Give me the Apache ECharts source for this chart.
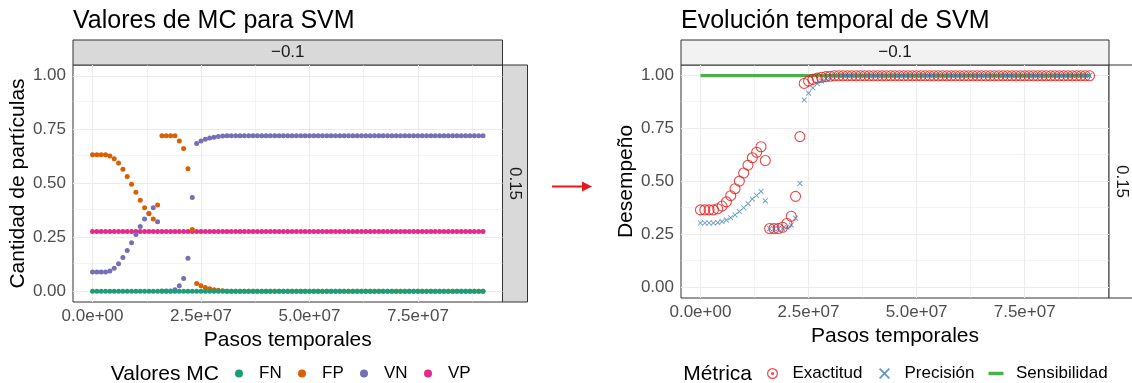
<!DOCTYPE html>
<html><head><meta charset="utf-8">
<script src="https://cdn.jsdelivr.net/npm/echarts@6/dist/echarts.min.js"></script>
<style>html,body{margin:0;padding:0;background:#fff}#c{width:1132px;height:383px}</style>
</head><body><div id="c"></div>
<script>
// ---- data (x in millions of time steps) ----
const pasos = [0,1,2,3,4,5,6,7,8,9,10,11,12,13,14,15,16,17,18,19,20,21,22,23,24,25,26,27,28,29,30,31,32,33,34,35,36,37,38,39,40,41,42,43,44,45,46,47,48,49,50,51,52,53,54,55,56,57,58,59,60,61,62,63,64,65,66,67,68,69,70,71,72,73,74,75,76,77,78,79,80,81,82,83,84,85,86,87,88,89,90];
const FN = [0,0,0,0,0,0,0,0,0,0, 0,0,0,0,0,0,0,0,0,0, 0,0,0,0,0,0,0,0,0,0, 0,0,0,0,0,0,0,0,0,0, 0,0,0,0,0,0,0,0,0,0, 0,0,0,0,0,0,0,0,0,0, 0,0,0,0,0,0,0,0,0,0, 0,0,0,0,0,0,0,0,0,0, 0,0,0,0,0,0,0,0,0,0, 0];
const FP = [0.633,0.633,0.633,0.633,0.628,0.615,0.595,0.566,0.533,0.497,
            0.459,0.422,0.387,0.361,0.335,0.400,0.722,0.722,0.722,0.722,
            0.697,0.663,0.569,0.287,0.036,0.025,0.017,0.011,0.007,0.004,
            0.002,0,0,0,0,0,0,0,0,0, 0,0,0,0,0,0,0,0,0,0, 0,0,0,0,0,0,0,0,0,0,
            0,0,0,0,0,0,0,0,0,0, 0,0,0,0,0,0,0,0,0,0, 0,0,0,0,0,0,0,0,0,0, 0];
const VN = [0.089,0.089,0.089,0.089,0.094,0.107,0.127,0.156,0.189,0.225,
            0.263,0.300,0.335,0.361,0.387,0.322,0.001,0.001,0.001,0.007,
            0.025,0.059,0.153,0.435,0.686,0.697,0.705,0.711,0.715,0.718,
            0.720,0.722,0.722,0.722,0.722,0.722,0.722,0.722,0.722,0.722,
            0.722,0.722,0.722,0.722,0.722,0.722,0.722,0.722,0.722,0.722,
            0.722,0.722,0.722,0.722,0.722,0.722,0.722,0.722,0.722,0.722,
            0.722,0.722,0.722,0.722,0.722,0.722,0.722,0.722,0.722,0.722,
            0.722,0.722,0.722,0.722,0.722,0.722,0.722,0.722,0.722,0.722,
            0.722,0.722,0.722,0.722,0.722,0.722,0.722,0.722,0.722,0.722, 0.722];
const VP = [0.277,0.277,0.277,0.277,0.277,0.277,0.277,0.277,0.277,0.277,
            0.277,0.277,0.277,0.277,0.277,0.277,0.277,0.277,0.277,0.277,
            0.277,0.277,0.277,0.277,0.277,0.277,0.277,0.277,0.277,0.277,
            0.277,0.277,0.277,0.277,0.277,0.277,0.277,0.277,0.277,0.277,
            0.277,0.277,0.277,0.277,0.277,0.277,0.277,0.277,0.277,0.277,
            0.277,0.277,0.277,0.277,0.277,0.277,0.277,0.277,0.277,0.277,
            0.277,0.277,0.277,0.277,0.277,0.277,0.277,0.277,0.277,0.277,
            0.277,0.277,0.277,0.277,0.277,0.277,0.277,0.277,0.277,0.277,
            0.277,0.277,0.277,0.277,0.277,0.277,0.277,0.277,0.277,0.277, 0.277];
const Exactitud = [0.366,0.366,0.366,0.366,0.371,0.384,0.404,0.433,0.466,0.502,
            0.540,0.577,0.612,0.638,0.664,0.599,0.278,0.278,0.278,0.284,
            0.302,0.336,0.430,0.712,0.963,0.974,0.982,0.988,0.992,0.995,
            0.997,0.999,0.999,0.999,0.999,0.999,0.999,0.999,0.999,0.999,
            0.999,0.999,0.999,0.999,0.999,0.999,0.999,0.999,0.999,0.999,
            0.999,0.999,0.999,0.999,0.999,0.999,0.999,0.999,0.999,0.999,
            0.999,0.999,0.999,0.999,0.999,0.999,0.999,0.999,0.999,0.999,
            0.999,0.999,0.999,0.999,0.999,0.999,0.999,0.999,0.999,0.999,
            0.999,0.999,0.999,0.999,0.999,0.999,0.999,0.999,0.999,0.999, 0.999];
const Precision = [0.304,0.304,0.304,0.304,0.306,0.311,0.318,0.329,0.342,0.358,
            0.376,0.396,0.417,0.434,0.453,0.409,0.277,0.277,0.277,0.277,
            0.284,0.295,0.327,0.491,0.885,0.917,0.942,0.962,0.975,0.986,
            0.993,1,1,1,1,1,1,1,1,1, 1,1,1,1,1,1,1,1,1,1, 1,1,1,1,1,1,1,1,1,1,
            1,1,1,1,1,1,1,1,1,1, 1,1,1,1,1,1,1,1,1,1, 1,1,1,1,1,1,1,1,1,1, 1];
const Sensibilidad = [1,1,1,1,1,1,1,1,1,1, 1,1,1,1,1,1,1,1,1,1, 1,1,1,1,1,1,1,1,1,1,
            1,1,1,1,1,1,1,1,1,1, 1,1,1,1,1,1,1,1,1,1, 1,1,1,1,1,1,1,1,1,1,
            1,1,1,1,1,1,1,1,1,1, 1,1,1,1,1,1,1,1,1,1, 1,1,1,1,1,1,1,1,1,1, 1];

const xTicks = [0, 25, 50, 75];
const xTickLabels = ['0.0e+00', '2.5e+07', '5.0e+07', '7.5e+07'];
const xMinor = [12.5, 37.5, 62.5, 87.5];
const yTicks = [0, 0.25, 0.5, 0.75, 1];
const yTickLabels = ['0.00', '0.25', '0.50', '0.75', '1.00'];
const yMinor = [0.125, 0.375, 0.625, 0.875];
const leftNames = ['FN', 'FP', 'VN', 'VP'];
const rightNames = ['Exactitud', 'Precisión', 'Sensibilidad'];

// ---- styling ----
const FONT = "'Liberation Sans', Arial, Helvetica, sans-serif";
const dark2 = {FN:'#1B9E77', FP:'#D95F02', VN:'#7570B3', VP:'#E7298A'};
const set1 = {Exactitud:'#E41A1C', 'Precisión':'#377EB8', Sensibilidad:'#4DAF4A'};
const XPATH = 'path://M0,1.1L1.1,0L5,3.9L8.9,0L10,1.1L6.1,5L10,8.9L8.9,10L5,6.1L1.1,10L0,8.9L3.9,5Z';
const RINGPATH = 'path://M5,0A5,5,0,1,1,5,10A5,5,0,1,1,5,0Z M5,1.1A3.9,3.9,0,1,0,5,8.9A3.9,3.9,0,1,0,5,1.1Z M5,3.6A1.4,1.4,0,1,1,5,6.4A1.4,1.4,0,1,1,5,3.6Z';
const BARPATH = 'path://M0,0L0.01,0.01L0,0.01Z M30,11L29.99,10.99L30,10.99Z M7.5,3.7H22.5V7.3H7.5Z';

const grids = [
  {left:73, top:65, width:429.5, height:237},
  {left:681, top:65, width:428, height:233}
];

function xAxisCfg(gi){
  return {gridIndex:gi, type:'value', min:-4.5, max:94.5,
    axisLine:{show:false}, splitLine:{show:false},
    axisTick:{show:true, length:4, lineStyle:{color:'#333333', width:1}, customValues:xTicks},
    axisLabel:{customValues:xTicks, formatter:v=>xTickLabels[xTicks.indexOf(v)], fontSize:17, color:'#4D4D4D', margin:6, fontFamily:FONT},
    name:'Pasos temporales', nameLocation:'middle', nameGap:22,
    nameTextStyle:{fontSize:21, color:'#000', fontFamily:FONT}};
}
function yAxisCfg(gi, name){
  return {gridIndex:gi, type:'value', min:-0.05, max:1.05,
    axisLine:{show:false}, splitLine:{show:false},
    axisTick:{show:true, length:4, lineStyle:{color:'#333333', width:1}, customValues:yTicks},
    axisLabel:{customValues:yTicks, formatter:v=>yTickLabels[yTicks.indexOf(v)], fontSize:17, color:'#4D4D4D', margin:7, fontFamily:FONT},
    name:name, nameLocation:'middle', nameGap:43,
    nameTextStyle:{fontSize:21, color:'#000', fontFamily:FONT}};
}
function gridLines(gi){
  const major = {color:'#EBEBEB', width:1.1, type:'solid'};
  const minor = {color:'#EBEBEB', width:0.55, type:'solid'};
  const d = [];
  xMinor.forEach(v=>d.push({xAxis:v, lineStyle:minor}));
  yMinor.forEach(v=>d.push({yAxis:v, lineStyle:minor}));
  xTicks.forEach(v=>d.push({xAxis:v, lineStyle:major}));
  yTicks.forEach(v=>d.push({yAxis:v, lineStyle:major}));
  return {type:'scatter', xAxisIndex:gi, yAxisIndex:gi, data:[], z:1, silent:true,
    markLine:{z:1, silent:true, symbol:'none', label:{show:false}, animation:false, emphasis:{disabled:true}, data:d}};
}
const pairs = arr => pasos.map((p,i)=>[p, arr[i]]);

const series = [gridLines(0), gridLines(1)];
const leftData = {FN:FN, FP:FP, VN:VN, VP:VP};
// drawn VP first, FN last (FN sits on top of FP along 0, as in the reference)
leftNames.slice().reverse().forEach(n=>{
  series.push({name:n, type:'scatter', xAxisIndex:0, yAxisIndex:0, data:pairs(leftData[n]),
    symbol:'circle', symbolSize:5, z:3, itemStyle:{color:dark2[n], opacity:1}, emphasis:{disabled:true}});
});
series.push({name:'Sensibilidad', type:'line', xAxisIndex:1, yAxisIndex:1, data:pairs(Sensibilidad),
  showSymbol:false, symbol:'none', z:3, lineStyle:{color:set1['Sensibilidad'], width:3.2}, itemStyle:{color:set1['Sensibilidad']}, emphasis:{disabled:true}});
series.push({name:'Exactitud', type:'scatter', xAxisIndex:1, yAxisIndex:1, data:pairs(Exactitud),
  symbol:'circle', symbolSize:10, z:4, itemStyle:{color:'rgba(0,0,0,0)', borderColor:set1['Exactitud'], borderWidth:1.1}, emphasis:{disabled:true}});
series.push({name:'Precisión', type:'scatter', xAxisIndex:1, yAxisIndex:1, data:pairs(Precision),
  symbol:XPATH, symbolSize:5.5, z:5, itemStyle:{color:set1['Precisión']}, emphasis:{disabled:true}});

// one legend component per key, so every key sits where it is in the reference
const legendText = {fontSize:17, color:'#000', fontFamily:FONT};
const leftLegendLeft = [235, 298, 360, 424];
const rightLegendLeft = [767, 879, 981];
const rightIcons = {Exactitud:RINGPATH, 'Precisión':XPATH, Sensibilidad:BARPATH};
const legends = [];
leftNames.forEach((n,i)=>legends.push({data:[{name:n, icon:'circle'}], left:leftLegendLeft[i], top:365, padding:0,
  itemWidth:30, itemHeight:8, itemGap:5, textStyle:legendText, selectedMode:false}));
rightNames.forEach((n,i)=>legends.push({data:[{name:n, icon:rightIcons[n], itemStyle:{color:set1[n], borderWidth:0}}],
  left:rightLegendLeft[i], top:365, padding:0, itemWidth:30, itemHeight:11, itemGap:7, textStyle:legendText, selectedMode:false}));

const option = {
  animation:false,
  backgroundColor:'#fff',
  title:[
    {text:'Valores de MC para SVM', left:73, top:9, padding:0, textStyle:{fontSize:25, fontWeight:'normal', color:'#000', fontFamily:FONT}},
    {text:'Evolución temporal de SVM', left:681, top:9, padding:0, textStyle:{fontSize:25, fontWeight:'normal', color:'#000', fontFamily:FONT}}
  ],
  grid: grids.map(g=>Object.assign({show:true, backgroundColor:'#fff', borderColor:'#333333', borderWidth:1, containLabel:false}, g)),
  xAxis:[xAxisCfg(0), xAxisCfg(1)],
  yAxis:[yAxisCfg(0,'Cantidad de partículas'), yAxisCfg(1,'Desempeño')],
  legend:legends,
  graphic:[
    // strips (left panel)
    {type:'rect', shape:{x:73, y:40, width:429.5, height:25}, style:{fill:'#D9D9D9', stroke:'#333333', lineWidth:1}, silent:true},
    {type:'rect', shape:{x:502.5, y:65, width:25, height:237}, style:{fill:'#D9D9D9', stroke:'#333333', lineWidth:1}, silent:true},
    {type:'text', x:287.75, y:52.5, style:{text:'−0.1', fontSize:17, fill:'#1A1A1A', fontFamily:FONT, align:'center', verticalAlign:'middle'}, silent:true},
    {type:'text', x:515, y:183.5, rotation:-Math.PI/2, style:{text:'0.15', fontSize:17, fill:'#1A1A1A', fontFamily:FONT, align:'center', verticalAlign:'middle'}, silent:true},
    // strips (right panel)
    {type:'rect', shape:{x:681, y:40, width:428, height:25}, style:{fill:'#F2F2F2', stroke:'#333333', lineWidth:1}, silent:true},
    {type:'rect', shape:{x:1109, y:65, width:25, height:233}, style:{fill:'#FFFFFF', stroke:'#333333', lineWidth:1}, silent:true},
    {type:'text', x:895, y:52.5, style:{text:'−0.1', fontSize:17, fill:'#1A1A1A', fontFamily:FONT, align:'center', verticalAlign:'middle'}, silent:true},
    {type:'text', x:1121.5, y:181.5, rotation:-Math.PI/2, style:{text:'0.15', fontSize:17, fill:'#1A1A1A', fontFamily:FONT, align:'center', verticalAlign:'middle'}, silent:true},
    // legend titles
    {type:'text', x:219, y:374, style:{text:'Valores MC', fontSize:21, fill:'#000', fontFamily:FONT, align:'right', verticalAlign:'middle'}, silent:true},
    {type:'text', x:752, y:374, style:{text:'Métrica', fontSize:21, fill:'#000', fontFamily:FONT, align:'right', verticalAlign:'middle'}, silent:true},
    // arrow between panels
    {type:'line', shape:{x1:552, y1:186.5, x2:584, y2:186.5}, style:{stroke:'#E8191C', lineWidth:2}, silent:true},
    {type:'polygon', shape:{points:[[592,186.5],[582,181.5],[582,191.5]]}, style:{fill:'#E8191C'}, silent:true}
  ],
  series:series
};
const chart = echarts.init(document.getElementById('c'), null, {renderer:'canvas'});
chart.setOption(option);
</script>
</body></html>
